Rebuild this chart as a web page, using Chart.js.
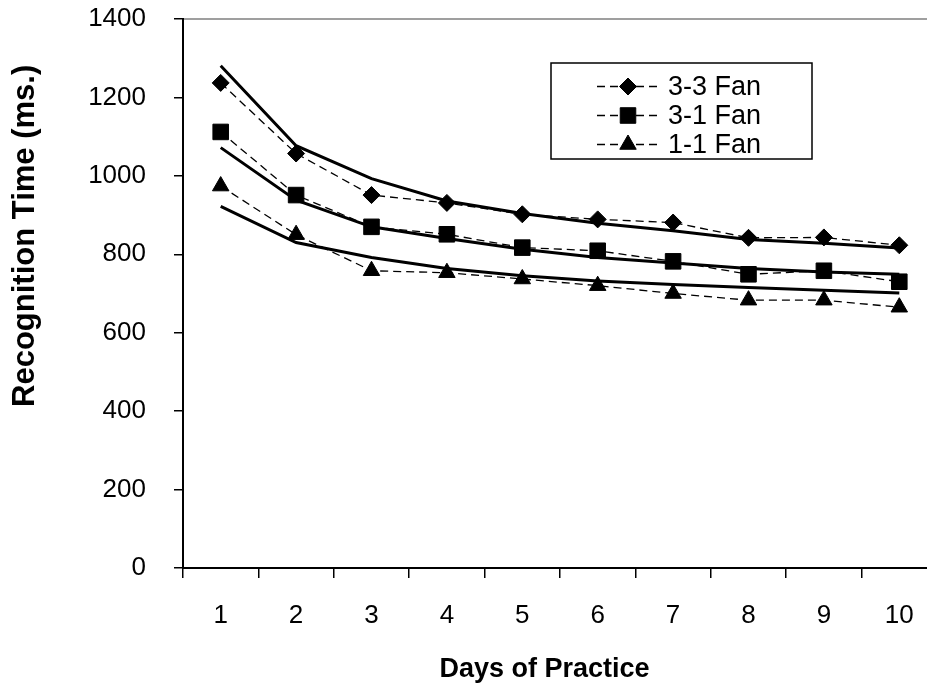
<!DOCTYPE html>
<html>
<head>
<meta charset="utf-8">
<script src="https://cdn.jsdelivr.net/npm/chart.js@4/dist/chart.umd.min.js"></script>
<style>
  html, body { margin: 0; padding: 0; background: #fff; overflow: hidden; }
  #wrap { width: 960px; height: 691px; position: relative; }
</style>
</head>
<body>
<div id="wrap"><canvas id="c"></canvas></div>
<script>
// ---- data ----
const days = ['1', '2', '3', '4', '5', '6', '7', '8', '9', '10'];
const seriesNames = ['3-3 Fan', '3-1 Fan', '1-1 Fan'];
const fan33 = [1237, 1057, 951, 931, 902, 889, 881, 842, 843, 823];
const fan31 = [1112, 951, 870, 851, 817, 809, 782, 749, 758, 730];
const fan11 = [974, 850, 758, 753, 737, 720, 700, 683, 683, 665];
// fitted (solid) curves
const fit33 = [1281, 1077, 993, 936, 904, 879, 860, 838, 828, 816];
const fit31 = [1072, 938, 870, 840, 813, 792, 778, 764, 755, 749];
const fit11 = [922, 830, 792, 764, 745, 732, 723, 715, 708, 701];
const yMin = 0, yMax = 1400, yStep = 200;
const xTitle = 'Days of Practice';
const yTitle = 'Recognition Time (ms.)';

const FONT = "'Liberation Sans', Arial, Helvetica, sans-serif";
Chart.defaults.font.family = FONT;
Chart.defaults.color = '#000';

const markers = [
  { style: 'rectRot', radius: 8.5 },
  { style: 'rect', radius: 11 },
  { style: 'triangle', radius: 9.5 }
];

function observed(label, data, m) {
  return {
    label, data,
    borderColor: '#000', borderWidth: 1.3, borderDash: [8, 5],
    pointStyle: m.style, pointRadius: m.radius, pointHoverRadius: m.radius,
    pointBackgroundColor: '#000', pointBorderColor: '#000', pointBorderWidth: 1,
    fill: false, tension: 0, order: 1
  };
}
function fitted(label, data) {
  return {
    label, data,
    borderColor: '#000', borderWidth: 3, pointRadius: 0, pointHoverRadius: 0,
    fill: false, tension: 0, order: 2
  };
}

function drawMarker(ctx, m, x, y) {
  ctx.save();
  ctx.setLineDash([]);
  ctx.fillStyle = '#000';
  ctx.strokeStyle = '#000';
  ctx.lineWidth = 1;
  if (Chart.helpers && Chart.helpers.drawPoint) {
    Chart.helpers.drawPoint(ctx, { pointStyle: m.style, rotation: 0, radius: m.radius, borderWidth: 1 }, x, y);
  } else {
    const r = m.radius;
    ctx.beginPath();
    if (m.style === 'rectRot') {
      ctx.moveTo(x, y - r); ctx.lineTo(x + r, y); ctx.lineTo(x, y + r); ctx.lineTo(x - r, y);
    } else if (m.style === 'rect') {
      const s = Math.SQRT1_2 * r; ctx.rect(x - s, y - s, 2 * s, 2 * s);
    } else {
      ctx.moveTo(x, y - r); ctx.lineTo(x + r * 0.866, y + r / 2); ctx.lineTo(x - r * 0.866, y + r / 2);
    }
    ctx.closePath(); ctx.fill(); ctx.stroke();
  }
  ctx.restore();
}

const framePlugin = {
  id: 'frame',
  beforeDraw(chart) {
    const { ctx, chartArea: a } = chart;
    ctx.save();
    ctx.strokeStyle = '#808080';
    ctx.lineWidth = 1.5;
    ctx.strokeRect(a.left, a.top, a.right - a.left, a.bottom - a.top);
    ctx.restore();
  }
};

const titlesPlugin = {
  id: 'titles',
  afterDraw(chart) {
    const { ctx, chartArea: a } = chart;
    ctx.save();
    ctx.fillStyle = '#000';
    ctx.textAlign = 'center';
    ctx.textBaseline = 'middle';
    ctx.font = 'bold 31px ' + FONT;
    ctx.translate(25, a.top + 0.395 * (a.bottom - a.top));
    ctx.rotate(-Math.PI / 2);
    ctx.fillText(yTitle, 0, 0);
    ctx.restore();
    ctx.save();
    ctx.fillStyle = '#000';
    ctx.textAlign = 'center';
    ctx.textBaseline = 'middle';
    ctx.font = 'bold 27px ' + FONT;
    ctx.fillText(xTitle, a.left + 0.4795 * (a.right - a.left), a.bottom + 102);
    ctx.restore();
  }
};

const legendPlugin = {
  id: 'boxLegend',
  afterDraw(chart) {
    const { ctx, chartArea: a } = chart;
    const bx = a.left + 368, by = a.top + 44, bw = 261, bh = 96;
    ctx.save();
    ctx.fillStyle = '#fff';
    ctx.fillRect(bx, by, bw, bh);
    ctx.strokeStyle = '#000';
    ctx.lineWidth = 1.5;
    ctx.strokeRect(bx, by, bw, bh);
    seriesNames.forEach((name, i) => {
      const y = by + 23.5 + i * 29;
      ctx.save();
      ctx.strokeStyle = '#000';
      ctx.lineWidth = 1.3;
      ctx.setLineDash([8, 5]);
      ctx.beginPath();
      ctx.moveTo(bx + 46, y);
      ctx.lineTo(bx + 106, y);
      ctx.stroke();
      ctx.restore();
      drawMarker(ctx, markers[i], bx + 77, y);
      ctx.fillStyle = '#000';
      ctx.font = '27px ' + FONT;
      ctx.textAlign = 'left';
      ctx.textBaseline = 'middle';
      ctx.fillText(name, bx + 117, y + 1);
    });
    ctx.restore();
  }
};

new Chart(document.getElementById('c'), {
  type: 'line',
  data: {
    labels: days,
    datasets: [
      observed(seriesNames[0], fan33, markers[0]),
      observed(seriesNames[1], fan31, markers[1]),
      observed(seriesNames[2], fan11, markers[2]),
      fitted('3-3 fit', fit33),
      fitted('3-1 fit', fit31),
      fitted('1-1 fit', fit11)
    ]
  },
  options: {
    responsive: true,
    maintainAspectRatio: false,
    animation: false,
    events: [],
    layout: { padding: { left: 0, top: 19, right: 23, bottom: 0 } },
    plugins: { legend: { display: false }, tooltip: { enabled: false } },
    scales: {
      x: {
        type: 'category',
        offset: true,
        grid: { offset: true, drawOnChartArea: false, color: '#000', lineWidth: 1.5, tickLength: 10 },
        border: { color: '#000', width: 2 },
        ticks: { color: '#000', font: { size: 26 }, padding: 22, autoSkip: false, maxRotation: 0 },
        afterFit(s) { s.height = 123; s.paddingLeft = 0; s.paddingRight = 0; }
      },
      y: {
        min: yMin, max: yMax,
        grid: { drawOnChartArea: false, color: '#000', lineWidth: 1.5, tickLength: 9 },
        border: { color: '#000', width: 2 },
        ticks: { stepSize: yStep, color: '#000', font: { size: 26 }, padding: 28,
                 callback: (v) => String(v) },
        afterFit(s) { s.width = 183; s.paddingTop = 0; s.paddingBottom = 0; }
      }
    }
  },
  plugins: [framePlugin, titlesPlugin, legendPlugin]
});
</script>
</body>
</html>
